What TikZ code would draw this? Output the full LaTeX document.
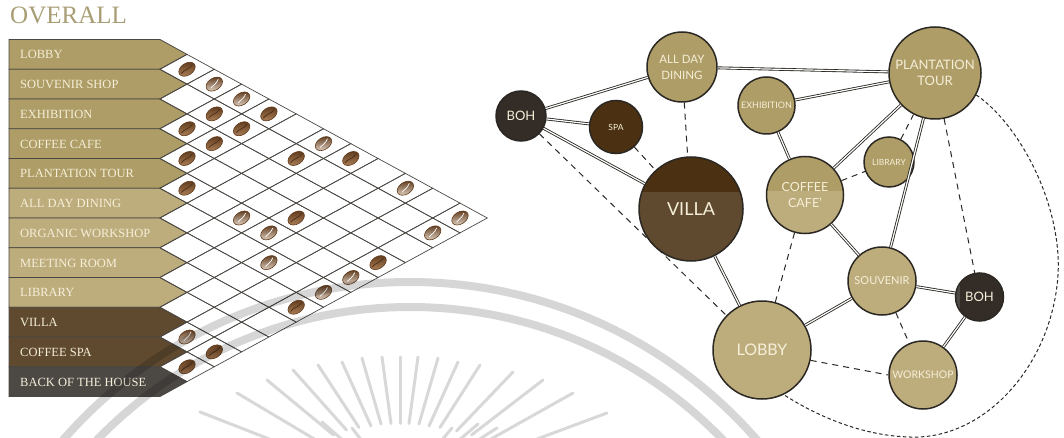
\documentclass[tikz,border=0pt]{standalone}
\usepackage{fontspec}
\setmainfont{Liberation Serif}
\setsansfont{Lato}
\usetikzlibrary{calc}

\definecolor{tanA}{HTML}{AE9D66}
\definecolor{tanB}{HTML}{BEAD7C}
\definecolor{villaA}{HTML}{4B3012}
\definecolor{villaB}{HTML}{5F4A2F}
\definecolor{houseA}{HTML}{332C27}
\definecolor{houseB}{HTML}{4C4844}
\definecolor{cream}{HTML}{F5EFD9}
\definecolor{title}{HTML}{A89D74}
\definecolor{ink}{HTML}{2B2823}
\definecolor{beanA}{HTML}{5F3A1C}
\definecolor{beanB}{HTML}{AD8058}
\definecolor{beanC}{HTML}{E2D3C4}
\definecolor{sealgray}{HTML}{D8D8D8}

% centre of the cell where two rows cross
\newcommand{\cellpos}[2]{%
  \pgfmathsetmacro{\cx}{187+27.3*(#2-#1-1)}%
  \pgfmathsetmacro{\cy}{39.5+14.875*(#1+#2+1)}%
}

\tikzset{
  bean/.pic={
    \fill[white] (0,0) ellipse [x radius=10.5pt, y radius=7.5pt];
    \draw[draw=beanA, line width=.6pt, top color=beanA, bottom color=beanB] (0,0) ellipse [x radius=9pt, y radius=6pt];
    \draw[beanA!70!black, line width=.6pt] (-7pt,-.5pt) .. controls (-3pt,1.5pt) and (2pt,-1.5pt) .. (7pt,.8pt);
  },
  pale bean/.pic={
    \fill[white] (0,0) ellipse [x radius=10.5pt, y radius=7.5pt];
    \draw[draw=beanA, line width=.6pt, top color=beanA, bottom color=beanC] (0,0) ellipse [x radius=9pt, y radius=6pt];
    \draw[white, line width=.7pt] (-5pt,-1.5pt) .. controls (-2pt,-.5pt) and (2pt,-1pt) .. (6pt,2pt);
  }
}

\begin{document}
\begin{tikzpicture}[x=1pt,y=-1pt,
    row edge/.style={draw=ink!85,line width=.8pt},
    row label/.style={anchor=base west,inner sep=0,text=cream,font=\fontsize{12.5}{14}\selectfont},
    grid line/.style={draw=ink!85,line width=.7pt},
    main node/.style={circle,draw=ink,line width=1.5pt,inner sep=0,align=center,text=cream,font=\sffamily\fontsize{#1}{16}\selectfont},
    two tone/.style n args={3}{path picture={\fill[#1] ([yshift=-#3]path picture bounding box.north west) rectangle (path picture bounding box.north east);},fill=#2},
    double link/.style={draw=ink,line width=.85pt,double=white,double distance=1.2pt},
    dash link/.style={draw=ink,line width=1pt,dash pattern=on 6pt off 5pt},
    fine link/.style={draw=ink,line width=1pt,dash pattern=on 3.5pt off 2.5pt},
    seal/.style={draw=black,opacity=.16,line width=8pt},
    seal ray/.style={draw=sealgray,line width=3pt,line cap=round}]

    \useasboundingbox (0,0) rectangle (1064,438);

    \begin{scope}
        \clip (0,0) rectangle (1064,438);
        \foreach \x/\y in {200/412,237/393,267/380,293/370,318/365,342/362,362/358,382/357,400/357,418/357,438/358,458/362,480/365,513/372,543/380,573/393,607/413}
        {
            \draw[seal ray] (\x,\y) -- ($(\x,\y)!.5!(400,490)$);
        }
        \foreach \x/\y in {322/422,352/428,452/428,478/424,497/428}
        {
            \draw[seal ray] (\x,\y) -- ($(\x,\y)!.4!(400,490)$);
        }
    \end{scope}

    \node[anchor=base west,inner sep=0,text=title,font=\fontsize{25}{27}\selectfont] (overall) at (10,24) {OVERALL};

    % rows of the table
    \foreach \rowtext/\rowfill [count=\r from 0] in {LOBBY/tanA,SOUVENIR SHOP/tanA,EXHIBITION/tanA,COFFEE CAFE/tanA,PLANTATION TOUR/tanA,ALL DAY DINING/tanB,ORGANIC WORKSHOP/tanB,MEETING ROOM/tanB,LIBRARY/tanB,VILLA/villaB,COFFEE SPA/villaB,BACK OF THE HOUSE/houseB}
    {
        \pgfmathsetmacro{\ytop}{39.5+29.75*\r}
        \pgfmathsetmacro{\ymid}{\ytop+14.875}
        \pgfmathsetmacro{\ybot}{\ytop+29.75}
        \draw[row edge,fill=\rowfill] (9,\ytop) -- (160,\ytop) -- (187,\ymid) -- (160,\ybot) -- (9,\ybot) -- cycle;
        \node[row label] (row\r) at (20,\ymid+4.5) {\rowtext};
    }

    % crossing cells
    \foreach \i in {0,...,10}
    {
        \pgfmathtruncatemacro{\first}{\i+1}
        \foreach \j in {\first,...,11}
        {
            \cellpos{\i}{\j}
            \draw[grid line] (\cx-27.3,\cy) -- (\cx,\cy-14.875) -- (\cx+27.3,\cy) -- (\cx,\cy+14.875) -- cycle;
        }
    }

    \foreach \i/\j in {0/1,0/4,1/3,2/3,1/4,2/4,3/4,4/5,1/6,0/7,3/8,6/11,3/11,9/11,10/11}
    {
        \cellpos{\i}{\j}
        \pic[rotate=33] at (\cx,\cy) {bean};
    }
    \foreach \i/\j in {0/2,0/3,0/6,0/9,0/11,1/11,4/7,4/8,5/9,5/11,4/11,9/10}
    {
        \cellpos{\i}{\j}
        \pic[rotate=33] at (\cx,\cy) {pale bean};
    }

    % spaces
    \node[main node=11.5,fill=tanA,minimum size=70] (dining) at (682,67) {ALL DAY\\DINING};
    \node[main node=13,fill=houseA,minimum size=50] (boh) at (521,116) {BOH};
    \node[main node=8.5,fill=villaA,minimum size=53] (spa) at (616,127) {SPA};
    \node[main node=18,two tone={villaA}{villaB}{35pt},minimum size=104] (villa) at (691,209) {\raisebox{-3pt}{VILLA}};
    \node[main node=9,fill=tanA,minimum size=57] (exhibition) at (766.5,105.5) {EXHIBITION};
    \node[main node=13,fill=tanA,minimum size=92] (plantation) at (935,73) {PLANTATION\\TOUR};
    \node[main node=8.5,fill=tanA,minimum size=50] (library) at (889,162) {LIBRARY};
    \node[main node=12.5,two tone={tanA}{tanB}{35pt},minimum size=77] (cafe) at (805,195) {COFFEE\\CAFE'};
    \node[main node=16,fill=tanB,minimum size=98] (lobby) at (762,350) {LOBBY};
    \node[main node=11,fill=tanB,minimum size=68] (souvenir) at (882,281) {SOUVENIR};
    \node[main node=13,fill=houseA,minimum size=48,path picture={\fill[houseB] (path picture bounding box.north west) rectangle ([xshift=4pt]path picture bounding box.south west);}] (bohb) at (979.5,297) {BOH};
    \node[main node=10.5,fill=tanB,minimum size=68] (workshop) at (923,375) {WORKSHOP};

    \path[every edge/.style={double link}]
        (boh) edge (dining)
        (boh) edge (spa)
        (boh) edge (villa)
        (dining) edge (plantation)
        (exhibition) edge (plantation)
        (exhibition) edge (cafe)
        (cafe) edge (plantation)
        (plantation) edge (souvenir)
        (cafe) edge (souvenir)
        (villa) edge (lobby)
        (lobby) edge (souvenir)
        (souvenir) edge (bohb)
        (bohb) edge (workshop)
    ;
    \path[every edge/.style={dash link}]
        (dining) edge (villa)
        (spa) edge (villa)
        (boh) edge (lobby)
        (cafe) edge (library)
        (library) edge (plantation)
        (cafe) edge (lobby)
        (plantation) edge (bohb)
        (souvenir) edge (workshop)
        (lobby.-12) edge (workshop.west)
    ;
    \draw[fine link] (plantation.-28) .. controls (1020,125) and (1062,205) .. (1058,275) .. controls (1052,365) and (985,440) .. (910,437) .. controls (865,436) and (820,418) .. (lobby.-64);

    % seal rings lie over the rows
    \begin{scope}
        \clip (0,0) rectangle (1064,438);
        \draw[seal] (410,742) circle [radius=460pt];
        \draw[seal] (410,742) circle [radius=435pt];
    \end{scope}
\end{tikzpicture}
\end{document}
